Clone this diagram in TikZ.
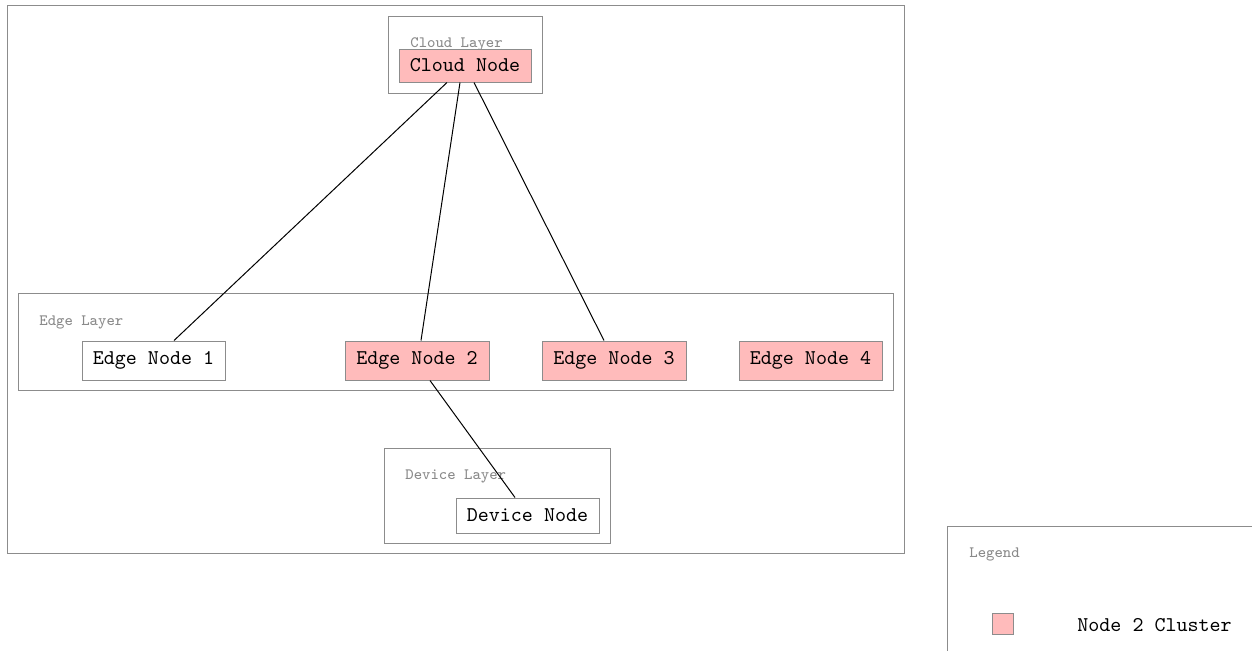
\documentclass[tikz,border=0pt]{standalone}
\usetikzlibrary{calc}
\definecolor{framegray}{HTML}{8C8C8C}
\definecolor{labelgray}{HTML}{8A8A8A}
\definecolor{clusterpink}{HTML}{FFBBBB}
\begin{document}
\begin{tikzpicture}[x=0.5pt,y=-0.5pt,
  layerbox/.style={draw=framegray,line width=0.5pt},
  layerlabel/.style={anchor=west,inner sep=0pt,text=labelgray,font=\fontsize{7.9}{9}\ttfamily},
  hostbox/.style={draw=framegray,line width=0.5pt,fill=white,inner sep=0pt,
    font=\fontsize{10.5}{12}\ttfamily},
  pinkbox/.style={hostbox,fill=clusterpink},
  link/.style={draw=black,line width=0.5pt}]
\clip (0,0) rectangle (1252,650);
\useasboundingbox (0,0) rectangle (1252,650);
\fill[white] (0,0) rectangle (1252,650);

% outer frame
\draw[layerbox] (7,5) rectangle (904,553);

% cloud layer
\draw[layerbox] (388,16) rectangle (542,93);
\node[layerlabel] (cloudlbl) at (410,44) {Cloud Layer};
\node[pinkbox,minimum width=66pt,minimum height=16.5pt] (cloud) at (465,65.5) {Cloud Node};

% edge layer
\draw[layerbox] (18,293) rectangle (893,390);
\node[layerlabel] (edgelbl) at (39,322) {Edge Layer};
\node[hostbox,minimum width=71.5pt,minimum height=19.5pt] (e1) at (153.5,360.5) {Edge Node 1};
\node[pinkbox,minimum width=72pt,minimum height=19.5pt] (e2) at (417,360.5) {Edge Node 2};
\node[pinkbox,minimum width=72pt,minimum height=19.5pt] (e3) at (614,360.5) {Edge Node 3};
\node[pinkbox,minimum width=71.5pt,minimum height=19.5pt] (e4) at (810.5,360.5) {Edge Node 4};

% device layer
\draw[layerbox] (384,448) rectangle (610,543);
\node[layerlabel] (devlbl) at (405,476) {Device Layer};
\node[hostbox,minimum width=71.5pt,minimum height=17.5pt] (dev) at (527.5,515.5) {Device Node};

% links
\draw[link] ($(cloud.south)+(-18,0)$) -- ($(e1.north)+(20.5,0)$);
\draw[link] ($(cloud.south)+(-5,0)$) -- ($(e2.north)+(4,0)$);
\draw[link] ($(cloud.south)+(9,0)$) -- ($(e3.north)+(-10,0)$);
\draw[link] ($(e2.south)+(13,0)$) -- ($(dev.north)+(-12.5,0)$);

% legend
\draw[layerbox] (947,526) rectangle (1300,700);
\node[layerlabel] (leglbl) at (969,554) {Legend};
\node[draw=framegray,line width=0.5pt,fill=clusterpink,inner sep=0pt,
  minimum width=10.5pt,minimum height=10.5pt] (swatch) at (1002.5,623.5) {};
\node[anchor=west,inner sep=0pt,font=\fontsize{10.5}{12}\ttfamily] (legtxt) at (1077,625) {Node 2 Cluster};
\end{tikzpicture}
\end{document}
